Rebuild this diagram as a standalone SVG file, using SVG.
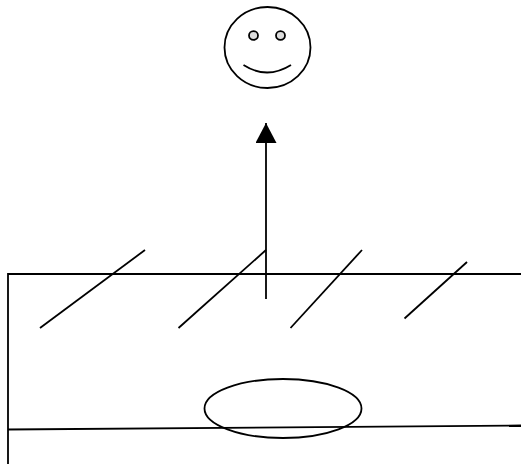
<svg xmlns="http://www.w3.org/2000/svg" width="521" height="464" viewBox="0 0 521 464">
<style>
.s{fill:none;stroke:#000;stroke-width:1.8}
</style>
<defs>
<marker id="a" markerUnits="userSpaceOnUse" markerWidth="22" markerHeight="22" refX="20" refY="10.500" orient="auto"><path d="M0 0L20 10.500L0 21Z" fill="#000"/></marker>
</defs>
<rect width="521" height="464" fill="#fff"/>
<g id="smiley">
<ellipse class="s" cx="267.500" cy="47.500" rx="43" ry="40.500"/>
<ellipse cx="253.500" cy="35.500" rx="4.500" ry="4.300" fill="#ddd" stroke="#000" stroke-width="1.800"/>
<ellipse cx="280.500" cy="35.500" rx="4.500" ry="4.300" fill="#ddd" stroke="#000" stroke-width="1.800"/>
<path class="s" d="M243.500 65Q267 80 291 65"/>
</g>
<g id="box">
<path class="s" d="M521 274H8V464"/>
<path class="s" d="M8 429.500L521 425.500"/>
</g>
<g id="ellipse">
<ellipse class="s" cx="283" cy="408.500" rx="78.500" ry="29.500"/>
</g>
<g id="connectors">
<path class="s" d="M266 299V123" marker-end="url(#a)"/>
<path class="s" d="M40 328L145 250"/>
<path class="s" d="M178.500 328L266 250"/>
<path class="s" d="M290.500 328L362 250"/>
<path class="s" d="M404.500 318.500L467 262"/>
</g>
</svg>
